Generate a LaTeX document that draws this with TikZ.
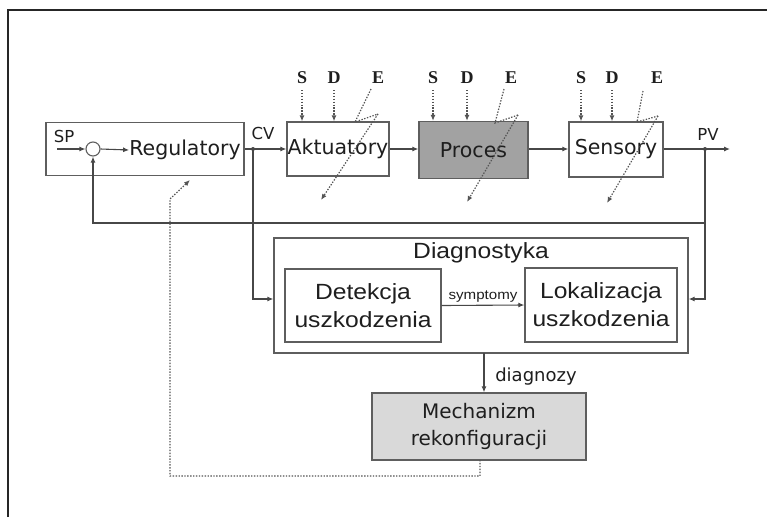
\documentclass[tikz,border=0pt]{standalone}
\usepackage{fontspec}
\setmainfont{DejaVu Sans}
\newfontfamily\arialw{Liberation Sans}[FakeStretch=1.12]
\newfontfamily\timesf{Liberation Serif}
\usetikzlibrary{arrows.meta}

\definecolor{linec}{HTML}{474747}
\definecolor{boxc}{HTML}{5E5E5E}
\definecolor{procfill}{HTML}{A2A2A2}
\definecolor{mechfill}{HTML}{D9D9D9}
\definecolor{txtc}{HTML}{1E1E1E}
\definecolor{dotc}{HTML}{555555}

\begin{document}
\begin{tikzpicture}[x=1pt,y=-1pt,
  blk/.style={draw=boxc,line width=1.3pt,inner sep=0pt,text=txtc,align=center},
  tip/.style={-{Latex[length=6pt,width=5pt]}},
  sig/.style={draw=linec,line width=1.1pt,tip},
  dots/.style={draw=dotc,line width=1.2pt,dash pattern=on 1.4pt off 1.5pt},
  dotarr/.style={dots,tip},
  vfont/.style={font=\fontsize{20.5}{27}\selectfont,text=txtc},
  afont/.style={font=\arialw\fontsize{22}{28}\selectfont,text=txtc},
  small/.style={font=\fontsize{16.5}{20}\selectfont,text=txtc,inner sep=0pt},
  sde/.style={font=\timesf\bfseries\fontsize{18}{20}\selectfont,text=txtc,inner sep=0pt},
  jdot/.style={circle,fill=linec,inner sep=0pt,minimum size=4pt},
]
\useasboundingbox (0,0) rectangle (767,517);

% outer frame (top and left edges)
\draw[line width=2pt,black!85] (8,517) -- (8,10) -- (767,10);

% ---- main control loop ----
\node[blk,minimum width=198pt,minimum height=53pt] (regbox) at (145,149) {};
\node[vfont,inner sep=0pt] (reg) at (185,150) {Regulatory};
\node[draw=boxc,line width=1.1pt,circle,minimum size=14pt,inner sep=0pt] (sum) at (93,149) {};
\node[small] (sp) at (64,136) {SP};
\coordinate (spin) at (57,149);

\node[blk,vfont,minimum width=102pt,minimum height=54pt] (akt) at (338,149) {Aktuatory};
\node[blk,vfont,fill=procfill,minimum width=109pt,minimum height=57pt] (proc) at (473.5,150) {Proces};
\node[blk,vfont,minimum width=94pt,minimum height=55pt] (sens) at (616,149.5) {Sensory};

\coordinate (cv) at (253,149);
\coordinate (pv) at (705,149);
\coordinate (out) at (730,149);
\node[small] (cvl) at (263,133) {CV};
\node[small] (pvl) at (708,134) {PV};

\draw[sig] (spin) -- (sum.west);
\draw[sig] (sum.east) -- (reg.west);
\draw[sig] (regbox.east |- cv) -- (akt.west |- cv);
\draw[sig] (akt.east |- cv) -- (proc.west |- cv);
\draw[sig] (proc.east |- cv) -- (sens.west |- cv);
\draw[sig] (sens.east |- pv) -- (out);
\node[jdot] (cvdot) at (cv) {};
\node[jdot] (pvdot) at (pv) {};

% feedback to the summing point
\coordinate (fb) at (705,223);
\draw[sig] (pv) -- (fb) -| (sum.south);

% ---- diagnostics ----
\node[blk,minimum width=414pt,minimum height=115pt] (diag) at (481,295.5) {};
\node[afont,inner sep=0pt] (diaglbl) at (481,253) {Diagnostyka};
\node[blk,afont,minimum width=156pt,minimum height=73pt] (det) at (363,305.5) {Detekcja\\uszkodzenia};
\node[blk,afont,minimum width=152pt,minimum height=74pt] (lok) at (601,305) {Lokalizacja\\uszkodzenia};
\draw[sig] (det.east) -- node[above=1pt,font=\arialw\fontsize{13.5}{16}\selectfont,text=txtc,inner sep=1pt] (sym) {symptomy} (lok.west);

\coordinate (cvd) at (253,299);
\coordinate (pvd) at (705,299);
\draw[sig] (cv) -- (cvd) -- (cvd -| diag.west);
\draw[sig] (pv) -- (pvd) -- (pvd -| diag.east);

% ---- reconfiguration ----
\node[blk,font=\fontsize{20}{27}\selectfont,fill=mechfill,minimum width=214pt,minimum height=67pt] (mech) at (479,426.5) {Mechanizm\\rekonfiguracji};
\coordinate (dg) at (484,353);
\draw[sig] (dg) -- (dg |- mech.north);
\node[font=\fontsize{18}{20}\selectfont,text=txtc,inner sep=0pt] (dgl) at (536,377) {diagnozy};

\coordinate (r0) at (480,460);
\coordinate (r1) at (480,476);
\coordinate (r2) at (170,476);
\coordinate (r3) at (170,199);
\coordinate (r4) at (190,180);
\draw[dotarr] (r0) -- (r1) -- (r2) -- (r3) -- (r4);

% ---- disturbances S, D and faults E ----
% Aktuatory
\node[sde] (sA) at (302,78) {S};
\node[sde] (dA) at (334,78) {D};
\node[sde] (eA) at (378,78) {E};
\draw[dotarr] (302,90) -- (sA |- akt.north);
\draw[dotarr] (334,90) -- (dA |- akt.north);
\coordinate (eA0) at (371,89);
\coordinate (eA1) at (355,122);
\coordinate (eA2) at (378,114);
\coordinate (eA3) at (321,200);
\draw[dots] (eA0) -- (eA1) -- (eA2);
\draw[dotarr] (eA2) -- (eA3);

% Proces
\node[sde] (sB) at (433,78) {S};
\node[sde] (dB) at (467,78) {D};
\node[sde] (eB) at (511,78) {E};
\draw[dotarr] (433,90) -- (sB |- proc.north);
\draw[dotarr] (467,90) -- (dB |- proc.north);
\coordinate (eB0) at (504,89);
\coordinate (eB1) at (495,123);
\coordinate (eB2) at (518,115);
\coordinate (eB3) at (467,202);
\draw[dots] (eB0) -- (eB1) -- (eB2);
\draw[dotarr] (eB2) -- (eB3);

% Sensory
\node[sde] (sC) at (581,78) {S};
\node[sde] (dC) at (612,78) {D};
\node[sde] (eC) at (657,78) {E};
\draw[dotarr] (581,90) -- (sC |- sens.north);
\draw[dotarr] (612,90) -- (dC |- sens.north);
\coordinate (eC0) at (643,91);
\coordinate (eC1) at (637,122);
\coordinate (eC2) at (658,116);
\coordinate (eC3) at (607,203);
\draw[dots] (eC0) -- (eC1) -- (eC2);
\draw[dotarr] (eC2) -- (eC3);

\end{tikzpicture}
\end{document}
